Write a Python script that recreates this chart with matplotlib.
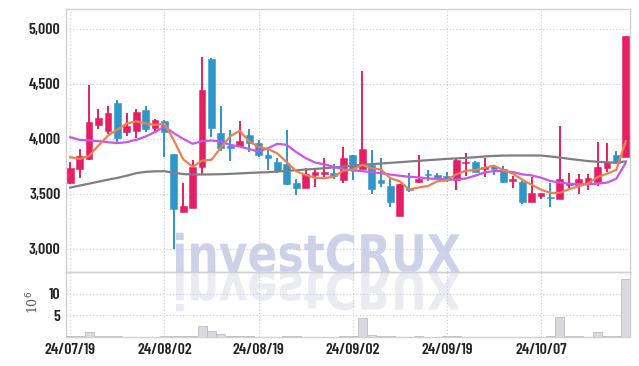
import numpy as np
import matplotlib.pyplot as plt
from matplotlib.textpath import TextPath
from matplotlib.patches import PathPatch
from matplotlib.font_manager import FontProperties
from matplotlib.transforms import Affine2D, IdentityTransform

# daily candles, 60 trading days
opens = [3597, 3724, 3818, 4130, 4070, 4324, 4061, 4067, 4258, 4097,
         4158, 3858, 3333, 3370, 3742, 4730, 4052, 3936, 3939, 4036,
         3964, 3849, 3794, 3773, 3597, 3555, 3676, 3685, 3694, 3627,
         3849, 3727, 3758, 3630, 3567, 3300, 3555, 3606, 3676, 3673,
         3658, 3627, 3779, 3794, 3722, 3753, 3722, 3617, 3611, 3427,
         3481, 3470, 3457, 3581, 3581, 3596, 3608, 3735, 3849, 3834]
highs = [3788, 3909, 4485, 4273, 4303, 4355, 4233, 4273, 4294, 4182,
         4167, 3860, 3597, 3809, 4748, 4735, 4303, 4076, 4158, 4091,
         3991, 3924, 3827, 4076, 3636, 3736, 3727, 3824, 3767, 3924,
         3849, 4615, 3900, 3827, 3652, 3590, 3688, 3855, 3718, 3688,
         3697, 3815, 3873, 3797, 3828, 3755, 3753, 3662, 3617, 3656,
         3505, 3596, 4115, 3692, 3683, 3677, 3970, 3964, 3889, 4937]
lows = [3590, 3642, 3809, 4091, 4045, 3970, 4030, 4009, 4061, 4052,
        3833, 3000, 3333, 3370, 3676, 4015, 3894, 3803, 3924, 3879,
        3839, 3718, 3691, 3579, 3491, 3555, 3561, 3652, 3636, 3597,
        3627, 3727, 3500, 3561, 3385, 3300, 3515, 3600, 3621, 3636,
        3606, 3539, 3658, 3697, 3656, 3668, 3602, 3556, 3411, 3427,
        3451, 3384, 3457, 3556, 3496, 3535, 3571, 3698, 3777, 3834]
closes = [3733, 3840, 4152, 4185, 4233, 4006, 4121, 4248, 4094, 4167,
          4061, 3361, 3394, 3748, 4445, 4100, 3918, 3915, 3985, 3961,
          3855, 3824, 3712, 3588, 3552, 3682, 3700, 3690, 3658, 3827,
          3727, 3909, 3545, 3597, 3430, 3590, 3536, 3636, 3670, 3645,
          3627, 3812, 3794, 3703, 3744, 3729, 3608, 3638, 3427, 3511,
          3505, 3466, 3638, 3602, 3632, 3641, 3747, 3792, 3777, 4937]
# volume in millions
volumes = [0.15, 0.2, 1.1, 0.2, 0.15, 0.15, 0.1, 0.1, 0.1, 0.1,
           0.15, 0.3, 0.2, 0.15, 2.6, 1.3, 0.6, 0.15, 0.3, 0.2,
           0.1, 0.1, 0.1, 0.3, 0.2, 0.1, 0.1, 0.1, 0.1, 0.2,
           0.2, 4.3, 0.5, 0.3, 0.15, 0.1, 0.1, 0.3, 0.1, 0.1,
           0.15, 0.15, 0.1, 0.1, 0.1, 0.1, 0.1, 0.1, 0.1, 0.1,
           0.1, 0.15, 4.7, 0.3, 0.3, 0.1, 1.1, 0.3, 0.15, 13.5]

# moving average lines
ma_short = [3833, 3818, 3845, 3940, 4029, 4083, 4139, 4159, 4140, 4127,
            4138, 3986, 3815, 3746, 3802, 3810, 3921, 4025, 4073, 3976,
            3927, 3908, 3867, 3788, 3706, 3672, 3647, 3642, 3656, 3711,
            3720, 3762, 3733, 3721, 3642, 3614, 3540, 3558, 3572, 3615,
            3623, 3678, 3710, 3716, 3736, 3756, 3716, 3684, 3629, 3583,
            3538, 3509, 3509, 3544, 3569, 3596, 3652, 3683, 3718, 3979]
ma_mid = [4015, 3991, 3985, 3979, 3970, 3961, 3970, 3991, 4021, 4061,
          4112, 4052, 4000, 3955, 3979, 3985, 3975, 3945, 3930, 3908,
          3885, 3915, 3955, 3945, 3880, 3825, 3785, 3768, 3745, 3725,
          3712, 3708, 3697, 3688, 3675, 3665, 3655, 3650, 3640, 3636,
          3630, 3630, 3640, 3665, 3695, 3707, 3707, 3698, 3677, 3668,
          3647, 3617, 3602, 3593, 3587, 3587, 3593, 3602, 3638, 3783]
ma_long = [3557, 3575, 3593, 3611, 3629, 3645, 3665, 3688, 3700, 3705,
           3706, 3692, 3680, 3676, 3676, 3677, 3679, 3682, 3686, 3690,
           3694, 3697, 3703, 3709, 3715, 3721, 3727, 3733, 3740, 3748,
           3758, 3764, 3770, 3776, 3782, 3788, 3794, 3800, 3806, 3812,
           3818, 3822, 3827, 3833, 3840, 3845, 3848, 3849, 3849, 3849,
           3848, 3840, 3830, 3818, 3808, 3798, 3792, 3787, 3785, 3795]

tick_pos = [0, 10, 20, 30, 40, 50]
tick_labels = ["24/07/19", "24/08/02", "24/08/19", "24/09/02", "24/09/19", "24/10/07"]

UP = "#e61e64"
DOWN = "#2e96c8"
GRID = "#c8cadc"
SPINE = "#d0d0d6"

tick_font = dict(family=["Barlow Condensed", "DejaVu Sans"], weight="semibold", size=11.5)

fig = plt.figure(figsize=(6.39, 3.66), dpi=100)
ax = fig.add_axes([66 / 639, 94 / 366, 564 / 639, 263 / 366])
axv = fig.add_axes([66 / 639, 29 / 366, 564 / 639, 65 / 366], sharex=ax)

x = np.arange(len(closes))
o = np.array(opens)
c = np.array(closes)
up = c >= o
colors = [UP if u else DOWN for u in up]

# wicks
ax.vlines(x, lows, highs, colors=colors, linewidth=1.4, zorder=3)
# bodies
bottoms = np.minimum(o, c)
heights = np.maximum(np.abs(c - o), 10)
ax.bar(x, heights, 0.72, bottom=bottoms, color=colors, edgecolor=colors,
       linewidth=0.4, zorder=4)

ax.plot(x, ma_long, color="#7f7f7f", lw=1.6, zorder=5)
ax.plot(x, ma_mid, color="#cc55ee", lw=1.6, zorder=5)
ax.plot(x, ma_short, color="#ee8050", lw=1.6, zorder=5)

axv.bar(x, volumes, 0.95, color="#d9d9de", edgecolor="#bdbdc4", linewidth=0.6, zorder=3)

ax.set_xlim(-0.45, 59.45)
ax.set_ylim(2790, 5180)
axv.set_ylim(0, 15)

ax.set_yticks([3000, 3500, 4000, 4500, 5000])
ax.set_yticklabels([f"{v:,}" for v in [3000, 3500, 4000, 4500, 5000]], **tick_font)
axv.set_yticks([5, 10])
axv.set_yticklabels(["5", "10"], **tick_font)
axv.set_xticks(tick_pos)
axv.set_xticklabels(tick_labels, **tick_font)
ax.tick_params(axis="x", labelbottom=False)

for a in (ax, axv):
    a.set_facecolor("none")
    a.grid(True, color=GRID, linestyle=(0, (1, 2)), linewidth=0.8)
    a.set_axisbelow(True)
    a.tick_params(length=0, pad=4, colors="#222222")
    for s in a.spines.values():
        s.set_color(SPINE)
        s.set_linewidth(1.0)

fig.text(33 / 639, (366 - 302) / 366, "10$^6$", rotation=90, ha="center", va="center",
         fontsize=9, color="#555555", family="DejaVu Serif")

# watermark with reflection (pixel coordinates)
prop = FontProperties(family="DejaVu Sans", weight="bold")
tp = TextPath((0, 0), "investCRUX", size=1, prop=prop)
ext = tp.get_extents()
sx = 284 / ext.width
sy = 40 / ext.height
base_x, base_y = 176, 366 - 272
main_tr = Affine2D().translate(-ext.x0, 0).scale(sx, sy).translate(base_x, base_y)
refl_tr = Affine2D().translate(-ext.x0, 0).scale(sx, -sy).translate(base_x, base_y)
wm = PathPatch(main_tr.transform_path(tp), facecolor="#cdd2e8", edgecolor="none",
               transform=IdentityTransform(), zorder=-2)
wm2 = PathPatch(refl_tr.transform_path(tp), facecolor="#ebebf2", edgecolor="none",
                transform=IdentityTransform(), zorder=-2)
fig.add_artist(wm)
fig.add_artist(wm2)

fig.savefig("out.png", dpi=100)
